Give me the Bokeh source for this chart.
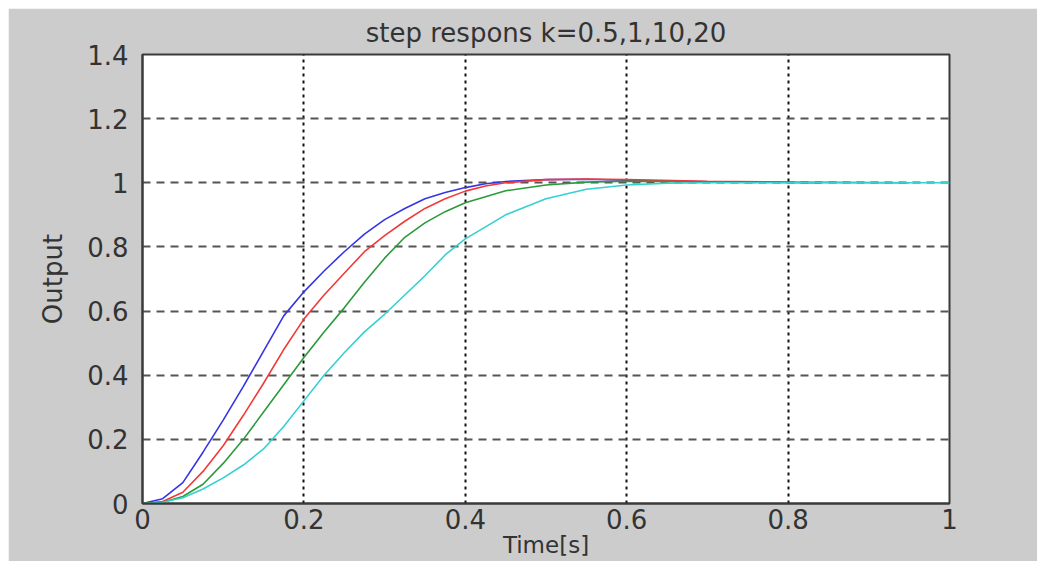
from bokeh.plotting import figure
from bokeh.models import FixedTicker, CustomJSTickFormatter, Range1d, Spacer
from bokeh.layouts import column, row
from bokeh.embed import file_html
from bokeh.resources import INLINE

title_text = "step respons k=0.5,1,10,20"
x_label = "Time[s]"
y_label = "Output"
x_ticks = [0, 0.2, 0.4, 0.6, 0.8, 1.0]
y_ticks = [0, 0.2, 0.4, 0.6, 0.8, 1.0, 1.2, 1.4]

t_blue = [0, 0.025, 0.05, 0.075, 0.1, 0.125, 0.15, 0.175, 0.2, 0.225, 0.25, 0.275, 0.3,
          0.325, 0.35, 0.375, 0.4, 0.425, 0.45, 0.5, 0.55, 0.6, 0.7, 0.84]
y_blue = [0, 0.015, 0.065, 0.16, 0.26, 0.365, 0.475, 0.585, 0.66, 0.725, 0.785, 0.84, 0.885,
          0.92, 0.95, 0.97, 0.985, 0.997, 1.004, 1.01, 1.011, 1.008, 1.003, 1.0]

t_red = [0, 0.025, 0.05, 0.075, 0.1, 0.125, 0.15, 0.175, 0.2, 0.225, 0.25, 0.275, 0.3,
         0.325, 0.35, 0.375, 0.4, 0.425, 0.45, 0.5, 0.55, 0.6, 0.7, 0.8, 0.95]
y_red = [0, 0.006, 0.035, 0.1, 0.18, 0.275, 0.375, 0.48, 0.575, 0.65, 0.718, 0.785, 0.835,
         0.88, 0.92, 0.95, 0.974, 0.99, 1.0, 1.01, 1.012, 1.01, 1.005, 1.002, 1.0]

t_green = [0, 0.025, 0.05, 0.075, 0.1, 0.125, 0.15, 0.175, 0.2, 0.225, 0.25, 0.275, 0.3,
           0.325, 0.35, 0.375, 0.4, 0.45, 0.5, 0.55, 0.6, 0.65, 0.76]
y_green = [0, 0.004, 0.022, 0.06, 0.125, 0.2, 0.285, 0.37, 0.455, 0.535, 0.61, 0.69, 0.765,
           0.83, 0.875, 0.91, 0.938, 0.975, 0.993, 1.002, 1.005, 1.004, 1.001]

t_cyan = [0, 0.025, 0.05, 0.075, 0.1, 0.125, 0.15, 0.175, 0.2, 0.225, 0.25, 0.275, 0.3,
          0.325, 0.35, 0.375, 0.4, 0.45, 0.5, 0.55, 0.6, 0.65, 0.7, 0.8, 1.0]
y_cyan = [0, 0.004, 0.018, 0.045, 0.08, 0.12, 0.17, 0.24, 0.32, 0.4, 0.47, 0.535, 0.59,
          0.65, 0.71, 0.775, 0.825, 0.9, 0.95, 0.98, 0.993, 0.999, 1.0, 1.0, 1.0]

series = [
    (t_blue, y_blue, "#3535e6"),
    (t_red, y_red, "#f03a3a"),
    (t_green, y_green, "#2a9a3a"),
    (t_cyan, y_cyan, "#35d0d0"),
]

FONT = "DejaVu Sans"
BG = "#cccccc"

p = figure(width=1029, height=553, output_backend="svg", toolbar_location=None,
           x_range=Range1d(0, 1), y_range=Range1d(0, 1.4),
           min_border_left=134, min_border_right=88, min_border_top=44, min_border_bottom=58)

p.background_fill_color = "white"
p.border_fill_color = BG
p.outline_line_color = "#3a3a3a"
p.outline_line_width = 2

p.title.text = title_text
p.title.align = "center"
p.title.text_font = FONT
p.title.text_font_size = "26px"
p.title.text_font_style = "normal"
p.title.text_color = "#333333"
p.title.standoff = 14

fmt = CustomJSTickFormatter(code="return String(Number(tick.toFixed(1)));")

for ax in (p.xaxis[0], p.yaxis[0]):
    ax.major_label_text_font = FONT
    ax.major_label_text_font_size = "26px"
    ax.major_label_text_color = "#333333"
    ax.major_tick_line_color = None
    ax.major_tick_out = 0
    ax.major_tick_in = 0
    ax.minor_tick_line_color = None
    ax.minor_tick_out = 0
    ax.axis_line_color = "#3a3a3a"
    ax.axis_line_width = 2
    ax.formatter = fmt

p.xaxis.ticker = FixedTicker(ticks=x_ticks)
p.yaxis.ticker = FixedTicker(ticks=y_ticks)
p.xaxis.major_label_standoff = 5
p.yaxis.major_label_standoff = 14

p.yaxis.axis_label = y_label
p.yaxis.axis_label_text_font = FONT
p.yaxis.axis_label_text_font_size = "26px"
p.yaxis.axis_label_text_font_style = "normal"
p.yaxis.axis_label_text_color = "#333333"
p.yaxis.axis_label_standoff = 16

p.xaxis.axis_label = x_label
p.xaxis.axis_label_text_font = FONT
p.xaxis.axis_label_text_font_size = "23px"
p.xaxis.axis_label_text_font_style = "normal"
p.xaxis.axis_label_text_color = "#333333"
p.xaxis.axis_label_standoff = 0

p.xgrid.grid_line_color = "#111111"
p.xgrid.grid_line_dash = "3 4"
p.xgrid.grid_line_width = 2
p.ygrid.grid_line_color = "#555555"
p.ygrid.grid_line_dash = "8 6"
p.ygrid.grid_line_width = 2

for t, y, c in series:
    p.line(t, y, line_color=c, line_width=1.6)

page = column(Spacer(width=1037, height=8), row(Spacer(width=8, height=553), p))

open("out.html", "w").write(file_html(page, INLINE))
